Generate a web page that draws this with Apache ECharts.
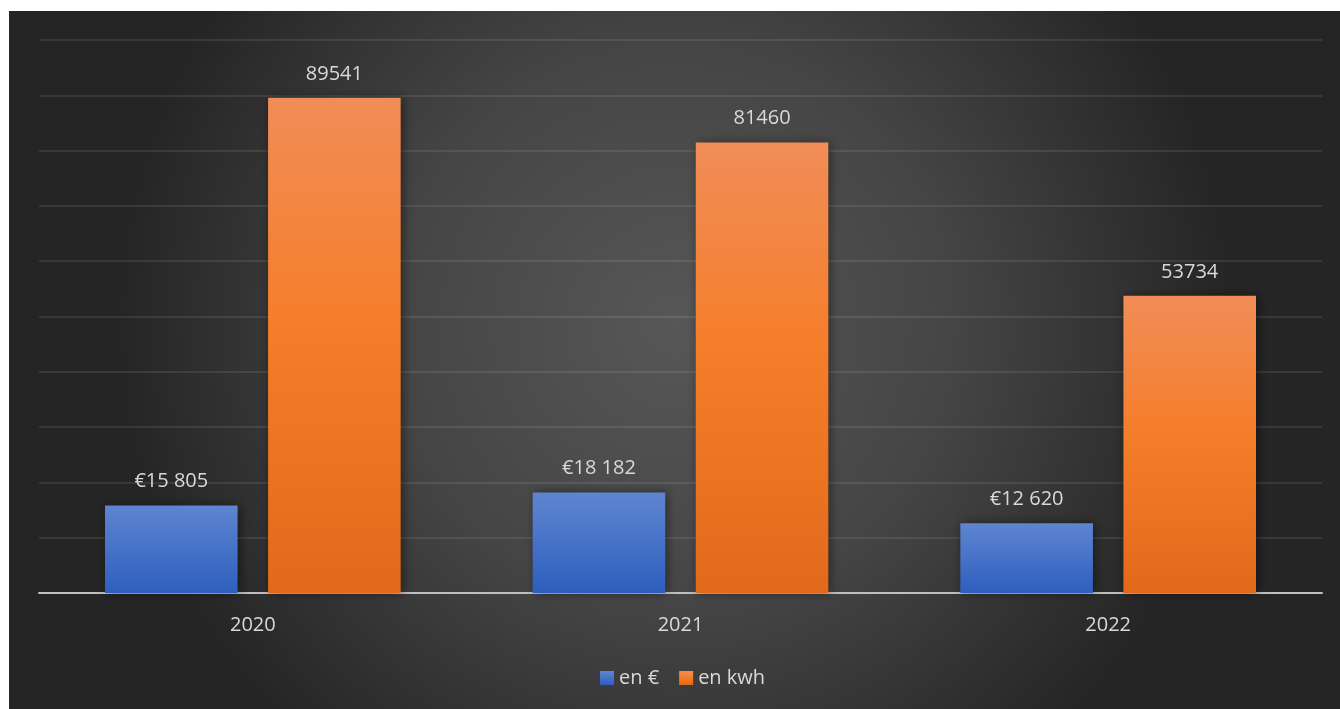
<!DOCTYPE html>
<html>
<head>
<meta charset="utf-8">
<script src="https://cdn.jsdelivr.net/npm/echarts@6/dist/echarts.min.js"></script>
<style>
html, body { margin: 0; padding: 0; background: #fff; }
#chart {
    position: absolute;
    left: 9px;
    top: 11px;
    width: 1331px;
    height: 698px;
}
</style>
</head>
<body>
<div id="chart"></div>
<script>
// données
var years = ['2020', '2021', '2022'];
var enEuro = [15805, 18182, 12620];
var enKwh = [89541, 81460, 53734];
var seriesNames = ['en €', 'en kwh'];

var chart = echarts.init(document.getElementById('chart'));

function euro(v) {
    return '€' + String(v).replace(/\B(?=(\d{3})+(?!\d))/g, ' ');
}

var textColor = '#d9d9d9';
var font = 'Open Sans';

var option = {
    backgroundColor: {
        type: 'radial', x: 0.5, y: 0.45, r: 0.8,
        colorStops: [
            { offset: 0, color: '#575757' },
            { offset: 0.5, color: '#454545' },
            { offset: 1, color: '#252525' }
        ]
    },
    textStyle: { fontFamily: font },
    grid: { left: 30, right: 18, top: 29, bottom: 116 },
    legend: {
        left: 586,
        bottom: 16,
        itemWidth: 14,
        itemHeight: 14,
        itemGap: 20,
        itemTextGap: 6,
        icon: 'rect',
        textStyle: { color: textColor, fontSize: 20, fontFamily: font },
        data: seriesNames
    },
    xAxis: {
        type: 'category',
        data: years,
        axisLine: { lineStyle: { color: '#bfbfbf', width: 2 } },
        axisTick: { show: false },
        axisLabel: { color: textColor, fontSize: 20, margin: 22 }
    },
    yAxis: {
        type: 'value',
        min: 0,
        max: 100000,
        interval: 10000,
        axisLabel: { show: false },
        axisLine: { show: false },
        axisTick: { show: false },
        splitLine: { lineStyle: { color: 'rgba(255,255,255,0.09)', width: 2 } }
    },
    series: [
        {
            name: seriesNames[0],
            type: 'bar',
            data: enEuro,
            barWidth: '31%',
            barGap: '23%',
            itemStyle: {
                color: new echarts.graphic.LinearGradient(0, 0, 0, 1, [
                    { offset: 0, color: '#5f85d1' },
                    { offset: 1, color: '#2d5fbe' }
                ]),
                shadowBlur: 10,
                shadowColor: 'rgba(0,0,0,0.45)',
                shadowOffsetX: 2
            },
            label: {
                show: true,
                position: 'top',
                distance: 14,
                color: textColor,
                fontSize: 20,
                formatter: function (p) { return euro(p.value); }
            }
        },
        {
            name: seriesNames[1],
            type: 'bar',
            data: enKwh,
            barWidth: '31%',
            itemStyle: {
                color: new echarts.graphic.LinearGradient(0, 0, 0, 1, [
                    { offset: 0, color: '#f18d58' },
                    { offset: 0.45, color: '#f57e2a' },
                    { offset: 1, color: '#e2691a' }
                ]),
                shadowBlur: 10,
                shadowColor: 'rgba(0,0,0,0.45)',
                shadowOffsetX: 2
            },
            label: {
                show: true,
                position: 'top',
                distance: 14,
                color: textColor,
                fontSize: 20
            }
        }
    ]
};

chart.setOption(option);
</script>
</body>
</html>
